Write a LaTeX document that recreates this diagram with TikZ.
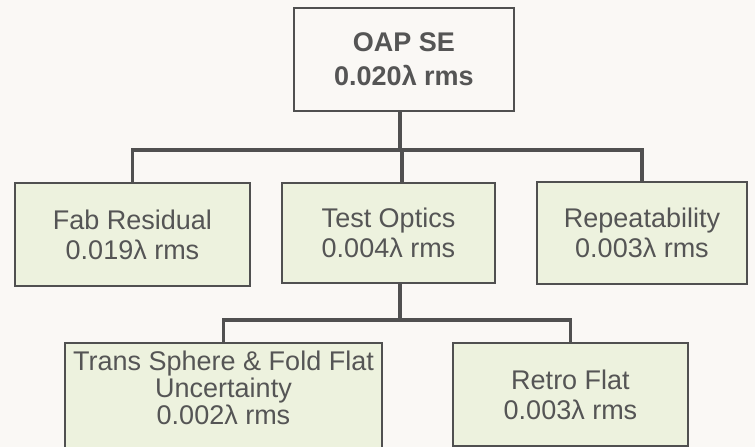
\documentclass[tikz,border=0pt]{standalone}
\usepackage{fontspec}
\setmainfont{Liberation Sans}
\definecolor{paper}{RGB}{250,248,245}
\definecolor{boxfill}{RGB}{237,242,222}
\definecolor{ink}{RGB}{85,85,85}
\definecolor{wire}{RGB}{80,80,80}

\begin{document}
\begin{tikzpicture}[x=1pt, y=-1pt,
    box/.style={draw=wire, line width=1.5pt, fill=boxfill, text=ink,
                align=center, inner sep=0pt,
                font=\fontsize{27}{30}\selectfont},
    link/.style={draw=wire, line width=3.5pt},
]
    \fill[paper] (0,0) rectangle (755,447);
    \useasboundingbox (0,0) rectangle (755,447);
    \clip (0,0) rectangle (755,447);

    \node[box, fill=paper, minimum width=220pt, minimum height=103pt,
          font=\bfseries\fontsize{27}{34}\selectfont] (oap) at (404, 59.5)
        {OAP SE\\0.020λ rms};

    \node[box, minimum width=235pt, minimum height=103pt] (fab) at (132.5, 234.5)
        {Fab Residual\\0.019λ rms};
    \node[box, minimum width=213pt, minimum height=100pt] (test) at (388.5, 233)
        {Test Optics\\0.004λ rms};
    \node[box, minimum width=210pt, minimum height=102pt] (rep) at (642, 233)
        {Repeatability\\0.003λ rms};

    \node[box, minimum width=317pt, minimum height=114pt, text depth=25pt,
          font=\fontsize{27}{27}\selectfont] (trans) at (223.5, 400)
        {Trans Sphere \& Fold Flat\\Uncertainty\\0.002λ rms};
    \node[box, minimum width=235pt, minimum height=103pt] (retro) at (570.5, 394.5)
        {Retro Flat\\0.003λ rms};

    \coordinate (bus1) at (400, 150);
    \coordinate (tap1) at (402, 150);
    \coordinate (bus2) at (400, 320);

    % first level
    \draw[link] (oap.south -| bus1) -- (bus1);
    \draw[link] (fab.north) |- (bus1) -| (rep.north);
    \draw[link] (test.north -| tap1) -- (tap1);

    % second level
    \draw[link] (test.south -| bus2) -- (bus2);
    \draw[link] (trans.north) |- (bus2) -| (retro.north);
\end{tikzpicture}
\end{document}
